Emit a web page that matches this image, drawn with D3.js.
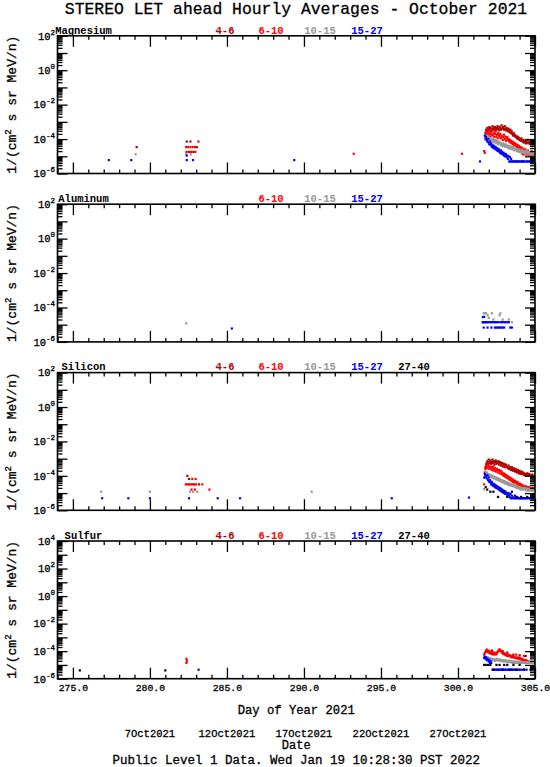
<!DOCTYPE html>
<html><head><meta charset="utf-8">
<script src="https://cdn.jsdelivr.net/npm/d3@7"></script>
<style>
body{margin:0;background:#fff}
svg{display:block}
text{font-family:"Liberation Mono","DejaVu Sans Mono",monospace;fill:#000}
.k{stroke:#000;stroke-width:0.3}
</style>
</head><body>
<svg id="chart" width="550" height="767"></svg>
<script>
// ---------------- DATA ----------------
const titleText = "STEREO LET ahead Hourly Averages - October 2021";
const footerText = "Public Level 1 Data. Wed Jan 19 10:28:30 PST 2022";
const xDomain = [274, 305];
const xMajorTicks = [275, 280, 285, 290, 295, 300, 305];
const dateTickDays = [280, 285, 290, 295, 300];
const dateTickLabels = ["7Oct2021", "12Oct2021", "17Oct2021", "22Oct2021", "27Oct2021"];
const elementNames = ["Magnesium", "Aluminum", "Silicon", "Sulfur"];
const yMaxExp = [2, 2, 2, 4];
const yMinExp = [-6, -6, -6, -6];
const channelNames = ["4-6", "6-10", "10-15", "15-27", "27-40"];
const mgChannels = [0, 1, 2, 3];
const alChannels = [1, 2, 3];
const siChannels = [0, 1, 2, 3, 4];
const sChannels = [0, 1, 2, 3, 4];
const clusterStepHours = 1;

// Magnesium: isolated points [day, flux]
const mg46 = [[279.14,3.4e-5],[282.39,7.2e-5],[282.63,7.2e-5],[283.04,3.4e-5],[282.52,1.8e-5],[282.82,1.8e-5]];
const mg610 = [[283.15,7.2e-5],[282.35,3.4e-5],[282.48,3.4e-5],[282.63,3.4e-5],[282.78,3.4e-5],[282.93,3.4e-5],[282.37,1.8e-5],[282.67,1.8e-5],[282.95,1.8e-5],[293.23,1.4e-5],[300.26,1.4e-5]];
const mg1015 = [[279.07,1.3e-5],[282.35,1.3e-5],[282.65,1.3e-5]];
const mg1527 = [[277.33,6e-6],[278.79,6e-6],[282.39,1.1e-5],[282.39,6e-6],[282.8,6e-6],[289.37,6e-6],[301.43,5e-6]];
// Magnesium: end-of-month event, hourly values
const mgClusterStart = 301.70;
const mgC46 = [null,null,2.2e-4,3.5e-4,2.8e-4,4.5e-4,3.2e-4,4.0e-4,5.0e-4,3.5e-4,
 4.5e-4,2.8e-4,4.0e-4,5.6e-4,3.5e-4,4.5e-4,3.2e-4,5.0e-4,4.0e-4,3.5e-4,
 4.5e-4,5.6e-4,4.0e-4,3.2e-4,5.0e-4,4.5e-4,3.5e-4,6.3e-4,4.0e-4,5.0e-4,
 4.5e-4,3.5e-4,5.6e-4,4.0e-4,3.2e-4,4.5e-4,3.5e-4,2.8e-4,4.0e-4,3.2e-4,
 2.5e-4,3.5e-4,2.2e-4,2.8e-4,2.0e-4,1.6e-4,2.2e-4,1.8e-4,1.4e-4,1.6e-4,
 1.3e-4,1.1e-4,1.4e-4,1.0e-4,1.2e-4,8.9e-5,1.0e-4,7.9e-5,1.1e-4,8.9e-5,
 7.1e-5,8.9e-5,6.3e-5,7.9e-5,7.1e-5,5.6e-5,7.1e-5,6.3e-5,8.9e-5,5.6e-5,
 6.3e-5,7.1e-5,5.0e-5,6.3e-5,5.6e-5,7.1e-5,5.0e-5,5.6e-5];
const mgC610 = [2.0e-5,1.6e-5,1.4e-4,2.5e-4,1.8e-4,3.2e-4,2.2e-4,1.6e-4,2.8e-4,2.0e-4,
 1.4e-4,2.5e-4,1.8e-4,3.2e-4,1.6e-4,2.2e-4,1.3e-4,2.0e-4,2.8e-4,1.4e-4,
 1.8e-4,1.1e-4,2.2e-4,1.6e-4,1.3e-4,2.0e-4,1.1e-4,1.6e-4,1.4e-4,8.9e-5,
 1.3e-4,1.8e-4,1.0e-4,1.4e-4,7.9e-5,1.1e-4,1.3e-4,8.9e-5,1.0e-4,7.1e-5,
 8.9e-5,6.3e-5,7.9e-5,5.6e-5,7.1e-5,5.0e-5,6.3e-5,4.5e-5,5.6e-5,4.0e-5,
 5.0e-5,3.5e-5,4.5e-5,3.2e-5,4.0e-5,2.8e-5,3.5e-5,2.5e-5,3.2e-5,2.2e-5,
 1.3e-5,2.8e-5,2.0e-5,1.3e-5,2.5e-5,1.3e-5,1.8e-5,1.3e-5,2.2e-5,1.3e-5,
 1.3e-5,1.6e-5,1.3e-5,1.3e-5,2.0e-5,1.3e-5,1.3e-5,1.3e-5];
const mgC1015 = [null,null,8.9e-5,1.3e-4,1.1e-4,1.6e-4,1.0e-4,1.3e-4,8.9e-5,1.1e-4,
 7.9e-5,1.0e-4,8.9e-5,7.1e-5,1.0e-4,7.9e-5,6.3e-5,8.9e-5,7.1e-5,5.6e-5,
 7.9e-5,6.3e-5,5.0e-5,7.1e-5,5.6e-5,6.3e-5,4.5e-5,5.6e-5,5.0e-5,4.0e-5,
 5.6e-5,4.5e-5,3.5e-5,5.0e-5,4.0e-5,4.5e-5,3.2e-5,4.0e-5,3.5e-5,2.8e-5,
 3.5e-5,4.0e-5,2.8e-5,3.2e-5,2.5e-5,3.5e-5,2.8e-5,2.2e-5,3.2e-5,2.5e-5,
 2.8e-5,2.0e-5,2.5e-5,2.2e-5,1.8e-5,2.5e-5,2.0e-5,2.2e-5,1.6e-5,2.0e-5,
 2.2e-5,1.8e-5,1.6e-5,2.0e-5,1.4e-5,1.8e-5,1.6e-5,2.0e-5,1.4e-5,1.6e-5,
 1.8e-5,1.4e-5,1.6e-5,1.4e-5,1.8e-5,1.4e-5,1.6e-5,1.4e-5];
const mgC1527 = [null,1.6e-4,1.1e-4,1.3e-4,8.9e-5,7.1e-5,1.0e-4,6.3e-5,5.0e-5,7.1e-5,
 4.5e-5,5.6e-5,3.5e-5,4.5e-5,3.2e-5,4.0e-5,2.8e-5,3.5e-5,2.5e-5,3.2e-5,
 2.2e-5,2.8e-5,2.0e-5,2.5e-5,1.8e-5,1.6e-5,2.2e-5,1.4e-5,1.8e-5,1.3e-5,
 1.6e-5,1.1e-5,1.4e-5,1.0e-5,1.3e-5,8.9e-6,1.1e-5,7.1e-6,1.0e-5,5.0e-6,
 8.9e-6,5.0e-6,7.1e-6,5.0e-6,5.0e-6,null,5.0e-6,5.0e-6,null,5.0e-6,
 5.0e-6,5.0e-6,null,5.0e-6,5.0e-6,null,5.0e-6,null,5.0e-6,5.0e-6,
 5.0e-6,null,5.0e-6,5.0e-6,null,null,5.0e-6,5.0e-6,null,5.0e-6,
 null,5.0e-6,5.0e-6,null,5.0e-6,5.0e-6,null,5.0e-6];

// Aluminum
const al610 = [];
const al1015 = [[282.36,1.2e-5],[301.67,4.6e-5],[301.75,4.6e-5],[301.83,4.6e-5],[301.92,3.5e-5],[302.0,2.5e-5],[302.2,4.6e-5],[302.3,2.0e-5],[302.7,3.5e-5],[302.75,4.6e-5],[302.9,2.0e-5],[303.1,1.4e-5],[303.3,2.0e-5],[303.5,1.4e-5]];
const al1527 = [[285.32,6e-6],[301.62,2.8e-5],[301.7,2.8e-5],[301.6,1.4e-5],[301.65,1.4e-5],[301.7,1.4e-5],[301.75,1.4e-5],[301.8,1.4e-5],[301.85,1.4e-5],[301.9,1.4e-5],[302.0,1.4e-5],[302.1,1.4e-5],[302.2,1.4e-5],[302.3,1.4e-5],[302.4,1.4e-5],[302.5,1.4e-5],[302.6,1.4e-5],[302.75,1.4e-5],[302.85,1.4e-5],[302.95,1.4e-5],[303.05,1.4e-5],[303.2,1.4e-5],[303.3,1.4e-5],[301.67,6.8e-6],[301.92,6.8e-6],[302.17,6.8e-6],[302.4,6.8e-6],[302.5,6.8e-6],[302.6,6.8e-6],[302.7,6.8e-6],[302.8,6.8e-6],[302.9,6.8e-6],[303.0,6.8e-6],[303.4,6.8e-6],[303.5,6.8e-6]];

// Silicon
const si46 = [[282.43,1.0e-4],[282.54,6.6e-5],[282.86,3.2e-5],[283.19,3.2e-5]];
const si610 = [[282.75,6.6e-5],[282.97,6.6e-5],[282.33,3.2e-5],[282.43,3.2e-5],[282.54,3.2e-5],[282.65,3.2e-5],[282.75,3.2e-5],[283.0,3.2e-5],[283.4,3.2e-5],[282.7,1.6e-5],[282.92,1.6e-5],[283.86,1.6e-5]];
const si1015 = [[276.84,1.2e-5],[280.0,1.2e-5],[282.6,1.2e-5],[282.8,1.2e-5],[283.07,1.2e-5],[290.5,1.2e-5]];
const si1527 = [[276.9,5e-6],[278.6,5e-6],[280.0,5e-6],[282.54,5e-6],[284.4,5e-6],[285.85,5e-6],[295.7,5e-6],[300.71,5.5e-6]];
const si2740 = [[301.8,2.2e-5],[301.9,1.6e-5],[302.1,1.2e-5],[302.3,1.2e-5],[302.6,6e-6],[302.9,1.2e-5],[303.2,6e-6],[303.5,1.2e-5],[303.8,6e-6],[304.1,6e-6],[304.5,6e-6],[304.8,6e-6]];
const siClusterStart = 301.70;
const siC46 = [null,null,3.2e-4,4.5e-4,5.6e-4,7.1e-4,5.0e-4,8.9e-4,6.3e-4,5.6e-4,
 7.9e-4,5.0e-4,6.3e-4,8.9e-4,5.6e-4,7.1e-4,4.5e-4,6.3e-4,7.9e-4,5.0e-4,
 6.3e-4,5.6e-4,7.1e-4,4.5e-4,5.6e-4,6.3e-4,4.0e-4,5.0e-4,5.6e-4,3.5e-4,
 4.5e-4,5.0e-4,3.2e-4,4.0e-4,4.5e-4,3.2e-4,3.5e-4,2.8e-4,4.0e-4,2.5e-4,
 3.2e-4,2.8e-4,2.2e-4,3.2e-4,2.5e-4,2.0e-4,2.8e-4,2.2e-4,1.8e-4,2.5e-4,
 2.0e-4,1.6e-4,2.2e-4,1.8e-4,1.4e-4,2.0e-4,1.6e-4,1.3e-4,1.8e-4,1.4e-4,
 1.6e-4,1.2e-4,1.4e-4,1.1e-4,1.3e-4,1.0e-4,1.2e-4,1.4e-4,1.0e-4,1.1e-4,
 1.3e-4,1.0e-4,1.1e-4,8.9e-5,1.0e-4,1.2e-4,8.9e-5,1.0e-4];
const siC610 = [3.2e-5,1.6e-4,2.5e-4,3.5e-4,2.8e-4,4.5e-4,3.2e-4,4.0e-4,2.5e-4,3.5e-4,
 2.8e-4,3.2e-4,2.2e-4,2.8e-4,3.5e-4,2.0e-4,2.5e-4,2.8e-4,1.8e-4,2.2e-4,
 2.5e-4,1.6e-4,2.0e-4,2.2e-4,1.4e-4,1.8e-4,2.0e-4,1.3e-4,1.6e-4,1.1e-4,
 1.4e-4,1.0e-4,1.3e-4,8.9e-5,1.1e-4,7.9e-5,1.0e-4,7.1e-5,8.9e-5,6.3e-5,
 7.9e-5,5.6e-5,7.1e-5,5.0e-5,6.3e-5,4.5e-5,5.6e-5,4.0e-5,5.0e-5,4.5e-5,
 3.5e-5,4.5e-5,3.2e-5,4.0e-5,2.8e-5,3.5e-5,3.2e-5,2.5e-5,3.2e-5,2.2e-5,
 2.8e-5,2.0e-5,2.5e-5,2.2e-5,2.0e-5,2.5e-5,2.0e-5,2.2e-5,2.0e-5,1.8e-5,
 2.2e-5,2.0e-5,1.8e-5,2.0e-5,2.0e-5,1.8e-5,2.0e-5,2.0e-5];
const siC1015 = [1.7e-5,null,1.0e-4,1.4e-4,1.6e-4,1.1e-4,1.3e-4,1.0e-4,1.2e-4,8.9e-5,
 1.1e-4,1.0e-4,7.9e-5,1.0e-4,8.9e-5,7.1e-5,8.9e-5,7.9e-5,6.3e-5,7.9e-5,
 7.1e-5,5.6e-5,7.1e-5,6.3e-5,5.0e-5,6.3e-5,5.6e-5,4.5e-5,5.6e-5,5.0e-5,
 4.0e-5,5.0e-5,4.5e-5,3.5e-5,4.5e-5,4.0e-5,3.2e-5,4.0e-5,3.5e-5,2.8e-5,
 3.5e-5,3.2e-5,2.8e-5,3.2e-5,2.5e-5,2.8e-5,3.2e-5,2.5e-5,2.2e-5,2.8e-5,
 2.5e-5,2.0e-5,2.5e-5,2.2e-5,1.8e-5,2.2e-5,2.0e-5,1.6e-5,2.0e-5,1.8e-5,
 2.0e-5,1.6e-5,1.8e-5,2.0e-5,1.6e-5,1.8e-5,1.4e-5,1.8e-5,1.6e-5,1.4e-5,
 1.6e-5,1.8e-5,1.4e-5,1.6e-5,1.4e-5,1.6e-5,1.4e-5,1.6e-5];
const siC1527 = [7.9e-5,1.3e-4,1.0e-4,8.9e-5,7.1e-5,1.1e-4,5.6e-5,7.9e-5,4.5e-5,5.6e-5,
 4.0e-5,3.2e-5,4.5e-5,2.8e-5,3.5e-5,2.5e-5,3.2e-5,2.2e-5,2.8e-5,2.0e-5,
 2.5e-5,1.8e-5,2.2e-5,1.6e-5,2.0e-5,1.4e-5,1.8e-5,1.3e-5,1.6e-5,1.1e-5,
 1.4e-5,1.0e-5,1.3e-5,8.9e-6,1.1e-5,1.0e-5,7.1e-6,8.9e-6,1.0e-5,7.1e-6,
 5.6e-6,8.9e-6,5.0e-6,7.1e-6,5.0e-6,5.6e-6,null,5.0e-6,7.1e-6,5.0e-6,
 5.0e-6,null,5.6e-6,5.0e-6,5.0e-6,null,5.0e-6,5.0e-6,null,5.0e-6,
 5.0e-6,null,5.0e-6,null,5.0e-6,5.0e-6,null,5.0e-6,null,5.0e-6,
 null,5.0e-6,5.0e-6,null,5.0e-6,null,5.0e-6,5.0e-6];

// Sulfur
const s46 = [[301.9,8.9e-5],[302.2,1.1e-4],[302.5,7.1e-5],[302.9,1.0e-4],[303.2,7.9e-5],[303.6,5.6e-5],[304.0,5.0e-5],[304.4,4.5e-5]];
const s610 = [[282.37,2.8e-5],[282.37,1.4e-5],[282.4,2.0e-5]];
const s1015 = [];
const s1527 = [[283.16,4.5e-6]];
const s2740 = [[275.45,4e-6],[281.0,4e-6],[301.7,1e-5],[301.8,1e-5],[301.95,1e-5],[302.1,1e-5],[302.3,4.5e-6],[302.5,1e-5],[302.7,1e-5],[302.9,4.5e-6],[303.0,1e-5],[303.2,1e-5],[303.4,4.5e-6],[303.6,1e-5],[303.8,4.5e-6],[304.0,1e-5],[304.3,4.5e-6]];
const sClusterStart = 301.70;
const sC610 = [5.6e-5,7.1e-5,8.9e-5,1.1e-4,1.3e-4,1.0e-4,8.9e-5,1.1e-4,7.1e-5,8.9e-5,
 7.9e-5,6.3e-5,8.9e-5,7.1e-5,5.6e-5,7.9e-5,6.3e-5,7.1e-5,5.6e-5,6.3e-5,
 7.1e-5,8.9e-5,1.0e-4,1.3e-4,1.1e-4,1.3e-4,1.0e-4,8.9e-5,7.9e-5,7.1e-5,
 6.3e-5,7.1e-5,5.6e-5,6.3e-5,5.0e-5,5.6e-5,4.5e-5,5.6e-5,5.0e-5,4.5e-5,
 5.0e-5,4.0e-5,4.5e-5,3.5e-5,4.5e-5,4.0e-5,3.5e-5,4.0e-5,3.2e-5,3.5e-5,
 5.6e-5,3.2e-5,2.8e-5,3.5e-5,3.2e-5,2.8e-5,3.2e-5,2.5e-5,2.8e-5,2.5e-5,
 2.2e-5,2.5e-5,4.5e-5,2.2e-5,2.0e-5,2.2e-5,1.8e-5,2.0e-5,1.6e-5,1.8e-5,
 1.4e-5,1.6e-5,1.4e-5,1.6e-5,1.4e-5,1.4e-5,1.6e-5,1.4e-5];
const sC1015 = [3.5e-5,4.0e-5,3.2e-5,3.5e-5,2.8e-5,3.2e-5,3.5e-5,2.5e-5,2.8e-5,3.2e-5,
 2.5e-5,2.8e-5,2.2e-5,2.5e-5,2.8e-5,2.2e-5,2.5e-5,2.0e-5,2.2e-5,2.5e-5,
 2.8e-5,2.2e-5,2.5e-5,2.0e-5,2.2e-5,2.5e-5,2.0e-5,2.2e-5,1.8e-5,2.0e-5,
 2.2e-5,1.8e-5,2.0e-5,2.2e-5,1.8e-5,2.0e-5,1.6e-5,1.8e-5,2.0e-5,1.6e-5,
 1.8e-5,2.0e-5,1.6e-5,1.8e-5,1.4e-5,1.6e-5,1.8e-5,1.4e-5,1.6e-5,1.8e-5,
 1.4e-5,1.6e-5,1.4e-5,1.6e-5,1.8e-5,1.4e-5,1.6e-5,1.4e-5,1.6e-5,1.4e-5,
 1.6e-5,1.4e-5,1.6e-5,1.4e-5,1.4e-5,1.6e-5,1.4e-5,1.4e-5,1.6e-5,1.4e-5,
 1.4e-5,1.6e-5,1.4e-5,1.4e-5,1.4e-5,1.6e-5,1.4e-5,1.4e-5];
const sC1527 = [3.2e-5,4.0e-5,2.8e-5,3.5e-5,2.2e-5,2.8e-5,2.5e-5,1.8e-5,2.2e-5,1.4e-5,
 1.8e-5,1.4e-5,null,4.5e-6,null,4.5e-6,4.5e-6,null,4.5e-6,null,
 4.5e-6,4.5e-6,null,4.5e-6,4.5e-6,null,4.5e-6,null,4.5e-6,4.5e-6,
 null,4.5e-6,null,4.5e-6,4.5e-6,null,null,4.5e-6,4.5e-6,null,
 4.5e-6,null,4.5e-6,null,4.5e-6,4.5e-6,null,4.5e-6,null,4.5e-6,
 null,4.5e-6,null,null,4.5e-6,null,4.5e-6,null,null,4.5e-6,
 null,null,4.5e-6,null,null,null,4.5e-6,null,null,null,
 null,null,4.5e-6,null,null,null,null,null];

// ---------------- STYLE / LAYOUT ----------------
const channelColors = ["#b00000", "#ff0000", "#999999", "#0000ff", "#000000"];
const legendX = [225, 271, 320, 367, 414];
const L = 57.5, R = 535;
const panelTop0 = 35.8, panelStep = 168.4, panelH = 137.7;
const dot = 2.2;

function expand(start, vals) {
  const step = clusterStepHours / 24;
  const out = [];
  vals.forEach((v, i) => { if (v != null) out.push([start + i * step, v]); });
  return out;
}

const panels = [
  { ch: mgChannels, series: [mg46.concat(expand(mgClusterStart, mgC46)), mg610.concat(expand(mgClusterStart, mgC610)), mg1015.concat(expand(mgClusterStart, mgC1015)), mg1527.concat(expand(mgClusterStart, mgC1527)), []] },
  { ch: alChannels, series: [[], al610, al1015, al1527, []] },
  { ch: siChannels, series: [si46.concat(expand(siClusterStart, siC46)), si610.concat(expand(siClusterStart, siC610)), si1015.concat(expand(siClusterStart, siC1015)), si1527.concat(expand(siClusterStart, siC1527)), si2740] },
  { ch: sChannels, series: [s46, s610.concat(expand(sClusterStart, sC610)), s1015.concat(expand(sClusterStart, sC1015)), s1527.concat(expand(sClusterStart, sC1527)), s2740] }
];

const svg = d3.select("#chart");
svg.append("rect").attr("width", 550).attr("height", 767).attr("fill", "#fff");

svg.append("text").attr("class", "k").attr("x", 296).attr("y", 14).attr("text-anchor", "middle")
  .attr("font-size", 16.4).text(titleText);

const x = d3.scaleLinear().domain(xDomain).range([L, R]);
const xMinor = d3.range(xDomain[0], xDomain[1] + 1).filter(d => xMajorTicks.indexOf(d) < 0);

panels.forEach((p, i) => {
  const top = panelTop0 + i * panelStep, bot = top + panelH;
  const y = d3.scaleLog().domain([Math.pow(10, yMinExp[i]), Math.pow(10, yMaxExp[i])]).range([bot, top]);
  const g = svg.append("g");
  const decades = d3.range(yMinExp[i], yMaxExp[i] + 1).map(e => Math.pow(10, e));
  const minors = [];
  for (let e = yMinExp[i]; e < yMaxExp[i]; e++) for (let m = 2; m <= 9; m++) minors.push(m * Math.pow(10, e));

  const styleAxis = sel => { sel.select(".domain").remove(); sel.selectAll("line").attr("stroke", "#000").attr("stroke-width", 1.3); };

  // points first, frame and ticks drawn over
  p.series.forEach((pts, c) => {
    g.append("g").selectAll("rect").data(pts).join("rect")
      .attr("x", d => x(d[0]) - dot / 2).attr("y", d => y(d[1]) - dot / 2)
      .attr("width", dot).attr("height", dot).attr("fill", channelColors[c]);
  });

  // x axes
  g.append("g").attr("transform", `translate(0,${bot})`)
    .call(d3.axisBottom(x).tickValues(xMajorTicks).tickSize(-11).tickPadding(5)
      .tickFormat(i === 3 ? d3.format(".1f") : () => ""))
    .call(styleAxis)
    .call(s => s.selectAll("text").attr("class", "k").attr("font-size", 9.8).attr("font-family", "Liberation Mono").attr("fill", "#000"));
  g.append("g").attr("transform", `translate(0,${bot})`)
    .call(d3.axisBottom(x).tickValues(xMinor).tickSize(-4).tickFormat(() => "")).call(styleAxis);
  g.append("g").attr("transform", `translate(0,${top})`)
    .call(d3.axisTop(x).tickValues(xMajorTicks).tickSize(-11).tickFormat(() => "")).call(styleAxis);
  g.append("g").attr("transform", `translate(0,${top})`)
    .call(d3.axisTop(x).tickValues(xMinor).tickSize(-4).tickFormat(() => "")).call(styleAxis);
  // y axes
  g.append("g").attr("transform", `translate(${L},0)`)
    .call(d3.axisLeft(y).tickValues(decades).tickSize(-10).tickFormat(() => "")).call(styleAxis);
  g.append("g").attr("transform", `translate(${L},0)`)
    .call(d3.axisLeft(y).tickValues(minors).tickSize(-5).tickFormat(() => "")).call(styleAxis);
  g.append("g").attr("transform", `translate(${R},0)`)
    .call(d3.axisRight(y).tickValues(decades).tickSize(-10).tickFormat(() => "")).call(styleAxis);
  g.append("g").attr("transform", `translate(${R},0)`)
    .call(d3.axisRight(y).tickValues(minors).tickSize(-5).tickFormat(() => "")).call(styleAxis);

  // frame
  g.append("rect").attr("x", L).attr("y", top).attr("width", R - L).attr("height", panelH)
    .attr("fill", "none").attr("stroke", "#000").attr("stroke-width", 1.6);

  // y tick labels
  const labExps = d3.range(yMaxExp[i], yMinExp[i] - 1, -2);
  labExps.forEach(e => {
    const t = g.append("text").attr("class", "k").attr("x", 55).attr("y", y(Math.pow(10, e)) + 3.8)
      .attr("text-anchor", "end").attr("font-size", 10.5);
    t.append("tspan").text("10");
    t.append("tspan").attr("font-size", 7.5).attr("dy", -5).text(String(e));
  });

  // y title
  const yt = g.append("text").attr("class", "k").attr("transform", `translate(16,${(top + bot) / 2}) rotate(-90)`)
    .attr("text-anchor", "middle").attr("font-size", 13);
  yt.append("tspan").text("1/(cm");
  yt.append("tspan").attr("font-size", 9).attr("dy", -5).text("2");
  yt.append("tspan").attr("dy", 5).text(" s sr MeV/n)");

  // legend
  g.append("text").attr("x", 83.5).attr("y", top - 2.2).attr("text-anchor", "middle")
    .attr("font-size", 10.5).attr("font-weight", "bold").text(elementNames[i]);
  p.ch.forEach(c => {
    g.append("text").attr("x", legendX[c]).attr("y", top - 2.2).attr("text-anchor", "middle")
      .attr("font-size", 10.5).attr("font-weight", "bold").style("fill", channelColors[c]).text(channelNames[c]);
  });
});

// bottom labels
svg.append("text").attr("class", "k").attr("x", (L + R) / 2).attr("y", 714).attr("text-anchor", "middle")
  .attr("font-size", 12.2).text("Day of Year 2021");
svg.append("g").selectAll("text").data(dateTickDays).join("text").attr("class", "k")
  .attr("x", d => x(d)).attr("y", 737).attr("text-anchor", "middle").attr("font-size", 10.5)
  .text((d, k) => dateTickLabels[k]);
svg.append("text").attr("class", "k").attr("x", (L + R) / 2).attr("y", 749).attr("text-anchor", "middle")
  .attr("font-size", 12).text("Date");
svg.append("text").attr("class", "k").attr("x", (L + R) / 2).attr("y", 764).attr("text-anchor", "middle")
  .attr("font-size", 12.5).text(footerText);
</script>
</body></html>
